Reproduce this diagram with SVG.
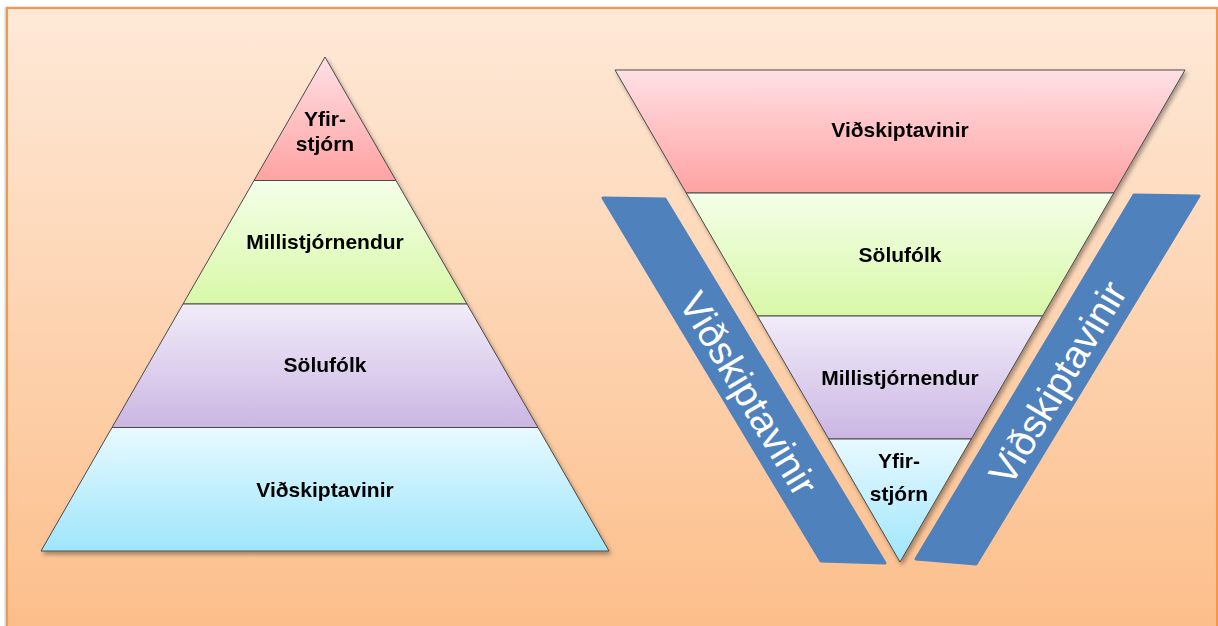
<svg xmlns="http://www.w3.org/2000/svg" width="1218" height="626" viewBox="0 0 1218 626">
<defs>
  <linearGradient id="bg" x1="0" y1="0" x2="0" y2="1">
    <stop offset="0" stop-color="#FEE9D8"/>
    <stop offset="1" stop-color="#FCBD88"/>
  </linearGradient>
  <linearGradient id="gRed" x1="0" y1="0" x2="0" y2="1">
    <stop offset="0" stop-color="#FFE0E5"/>
    <stop offset="1" stop-color="#FFA2A2"/>
  </linearGradient>
  <linearGradient id="gGreen" x1="0" y1="0" x2="0" y2="1">
    <stop offset="0" stop-color="#F4FFE8"/>
    <stop offset="1" stop-color="#D8F8A8"/>
  </linearGradient>
  <linearGradient id="gPurple" x1="0" y1="0" x2="0" y2="1">
    <stop offset="0" stop-color="#F1ECF9"/>
    <stop offset="1" stop-color="#CBB6E3"/>
  </linearGradient>
  <linearGradient id="gCyan" x1="0" y1="0" x2="0" y2="1">
    <stop offset="0" stop-color="#E8F9FF"/>
    <stop offset="1" stop-color="#9EE6FB"/>
  </linearGradient>
  <filter id="sh" x="-10%" y="-10%" width="130%" height="130%">
    <feDropShadow dx="2" dy="3" stdDeviation="2" flood-color="#000" flood-opacity="0.35"/>
  </filter>
  <filter id="bgsh" x="-5%" y="-5%" width="110%" height="110%">
    <feDropShadow dx="-1" dy="0" stdDeviation="1" flood-color="#000" flood-opacity="0.25"/>
  </filter>
</defs>
<style>
  .layer { stroke: #4a4a4a; stroke-width: 1; stroke-linejoin: round; }
  .lbl { font-family: "Liberation Sans", Arial, sans-serif; font-weight: bold; font-size: 21px; fill: #000; text-anchor: middle; }
  .bar { fill: #4F81BD; stroke: #4F81BD; stroke-width: 3; stroke-linejoin: round; }
  .bartxt { font-family: "Liberation Sans", Arial, sans-serif; font-size: 39px; fill: #fff; text-anchor: middle; }
</style>

<rect id="background" x="7" y="8" width="1210" height="640" fill="url(#bg)" stroke="#F79646" stroke-width="2" filter="url(#bgsh)"/>

<g id="pyramid" filter="url(#sh)">
  <g id="p-yfirstjorn">
    <polygon class="layer" points="325,57 396,180.5 254,180.5" fill="url(#gRed)"/>
    <text class="lbl" x="325" y="126">Yfir-</text>
    <text class="lbl" x="325" y="151">stjórn</text>
  </g>
  <g id="p-millistjornendur">
    <polygon class="layer" points="254,180.5 396,180.5 467,304 183,304" fill="url(#gGreen)"/>
    <text class="lbl" x="325" y="249">Millistjórnendur</text>
  </g>
  <g id="p-solufolk">
    <polygon class="layer" points="183,304 467,304 538,427.5 112,427.5" fill="url(#gPurple)"/>
    <text class="lbl" x="325" y="372">Sölufólk</text>
  </g>
  <g id="p-vidskiptavinir">
    <polygon class="layer" points="112,427.5 538,427.5 609,551 41,551" fill="url(#gCyan)"/>
    <text class="lbl" x="325" y="497">Viðskiptavinir</text>
  </g>
</g>

<g id="inverted" filter="url(#sh)">
  <g id="i-vidskiptavinir">
    <polygon class="layer" points="615,70 1185,70 1113.75,193 686.25,193" fill="url(#gRed)"/>
    <text class="lbl" x="900" y="137">Viðskiptavinir</text>
  </g>
  <g id="i-solufolk">
    <polygon class="layer" points="686.25,193 1113.75,193 1042.5,316 757.5,316" fill="url(#gGreen)"/>
    <text class="lbl" x="900" y="262">Sölufólk</text>
  </g>
  <g id="i-millistjornendur">
    <polygon class="layer" points="757.5,316 1042.5,316 971.25,439 828.75,439" fill="url(#gPurple)"/>
    <text class="lbl" x="900" y="385">Millistjórnendur</text>
  </g>
  <g id="i-yfirstjorn">
    <polygon class="layer" points="828.75,439 971.25,439 900,562" fill="url(#gCyan)"/>
    <text class="lbl" x="899" y="468">Yfir-</text>
    <text class="lbl" x="899" y="501">stjórn</text>
  </g>
</g>

<g id="bar-left">
  <polygon class="bar" points="603,198 665,199 885,563 821,561"/>
  <text class="bartxt" transform="translate(748,394) rotate(59)" x="0" y="13">Viðskiptavinir</text>
</g>
<g id="bar-right">
  <polygon class="bar" points="1134,195 1199,196 976,564 916,559"/>
  <text class="bartxt" transform="translate(1058,383) rotate(-59)" x="0" y="13">Viðskiptavinir</text>
</g>
</svg>
